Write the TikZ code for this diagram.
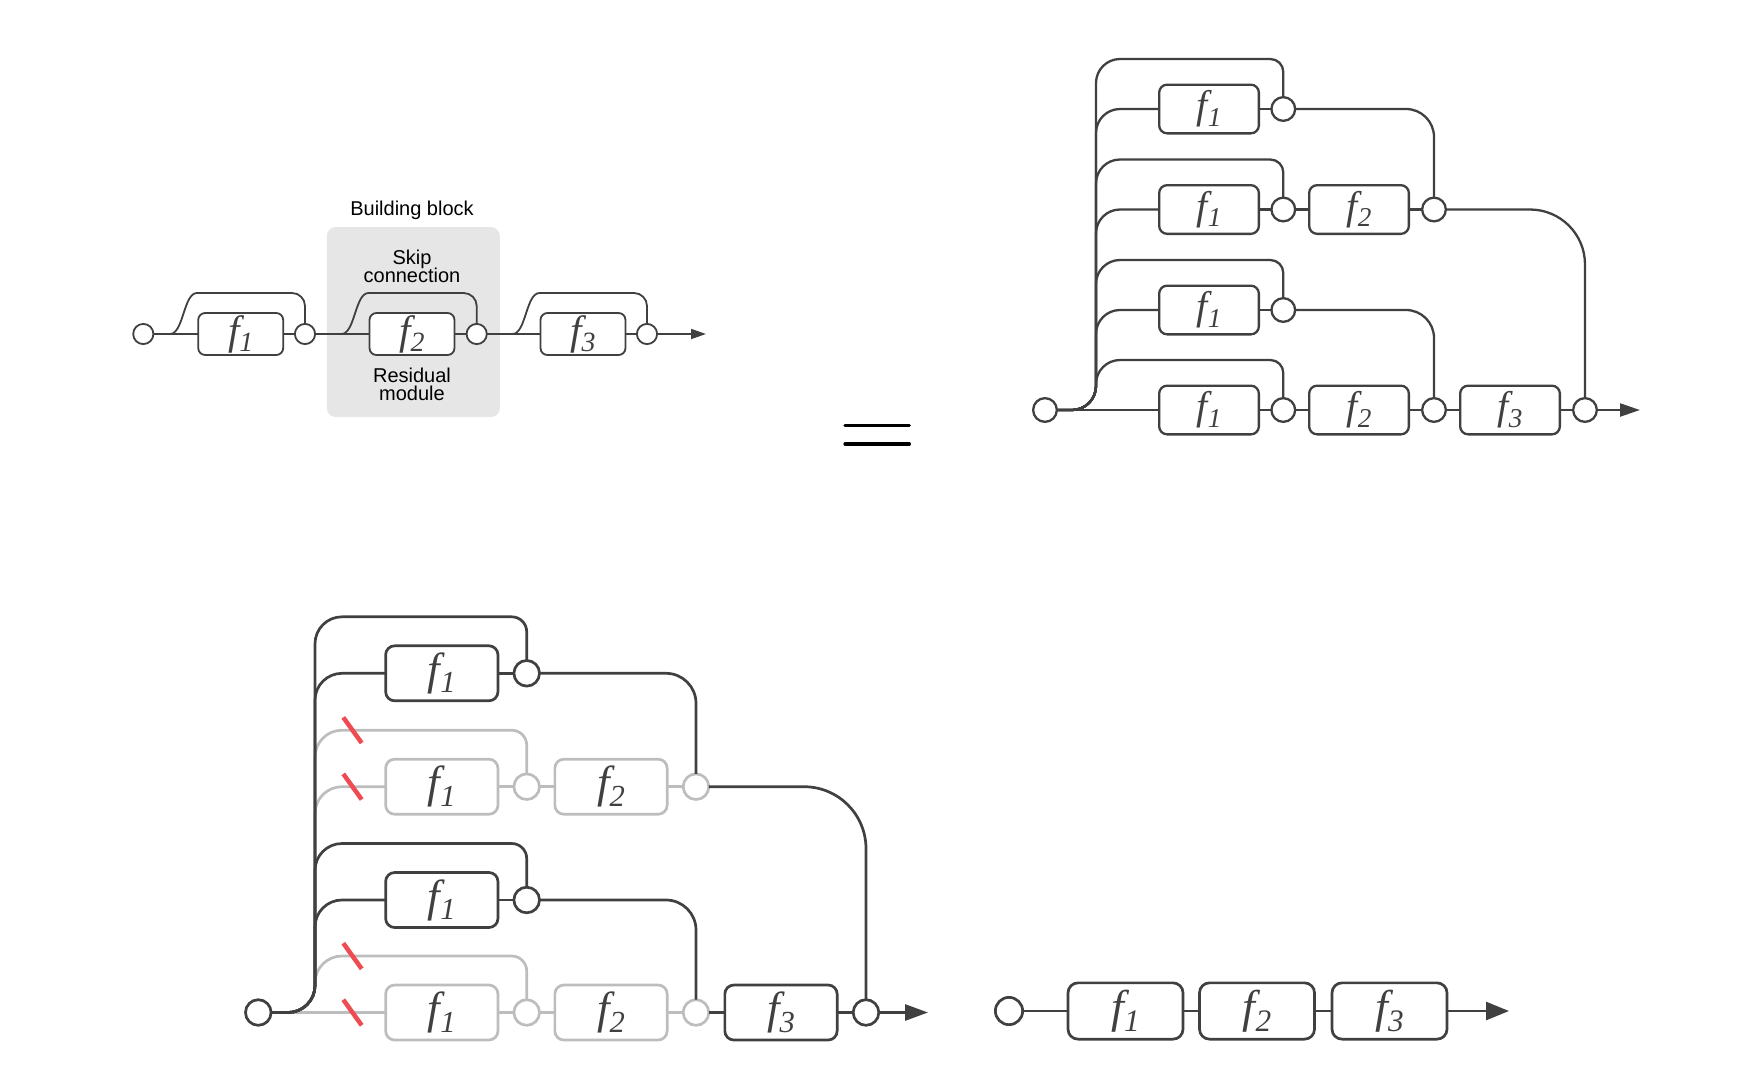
\documentclass[tikz,border=0pt]{standalone}
\usepackage{fontspec}
\setmainfont{Liberation Sans}
\newfontfamily\tnr{Liberation Serif}
\usepackage{graphicx}
\usetikzlibrary{arrows.meta}
\definecolor{dk}{HTML}{404040}
\definecolor{lg}{HTML}{BDBDBD}
\definecolor{rd}{HTML}{EE4B52}
\definecolor{bbg}{HTML}{E6E6E6}
\newcommand\fl[2]{{\fontsize{#1}{#1}\selectfont\tnr\itshape f\raisebox{-0.19em}{\scalebox{0.68}{#2}}}}
\begin{document}
\begin{tikzpicture}[x=1pt,y=-1pt,
  every node/.style={inner sep=0pt,outer sep=0pt},
  lbl/.style={font=\fontsize{20}{20}\selectfont, text=black, anchor=base},
  slash/.style={draw=rd, line width=4.5pt},
  eqline/.style={draw=black, line width=3.3pt, line cap=round}]
\useasboundingbox (0,0) rectangle (1756,1090);

% ================= top-left =================
\begin{scope}[ln/.style={draw=dk, line width=1.8pt},
  fb/.style={draw=dk, fill=white, rounded corners=7pt, minimum width=85pt, minimum height=42pt, line width=1.8pt, text=dk},
  cc/.style={circle, draw=dk, fill=white, minimum size=20.2pt, line width=1.8pt}]
\node[fill=bbg, rounded corners=9pt, minimum width=173pt, minimum height=190pt] (bb) at (413.3,322) {};
\node[lbl] (tbb) at (412,215) {Building block};
\node[lbl] (tskip) at (412,264) {Skip};
\node[lbl] (tconn) at (412,282) {connection};
\node[lbl] (tres) at (412,382) {Residual};
\node[lbl] (tmod) at (412,400) {module};
\node[cc] (tl0) at (143.3,334) {};
\node[fb] (tlf1) at (240.7,334) {\fl{41}{1}};
\node[cc] (tl1) at (305,334) {};
\node[fb] (tlf2) at (412,334) {\fl{41}{2}};
\node[cc] (tl2) at (476.7,334) {};
\node[fb] (tlf3) at (583,334) {\fl{41}{3}};
\node[cc] (tl3) at (647,334) {};
\coordinate (tlend) at (706,334);
\draw[ln] (tl0) -- (tlf1) -- (tl1) -- (tlf2) -- (tl2) -- (tlf3) -- (tl3);
\draw[ln,-{Triangle[length=15pt,width=10pt]}] (tl3) -- (tlend);
\draw[ln] (tl0.east) -- (170,334) .. controls (183.5,334) and (183.5,293) .. (197,293) [rounded corners=13pt] -- (tl1 |- 0,293) -- (tl1.north);
\draw[ln] (tl1.east) -- (341.5,334) .. controls (355,334) and (355,293) .. (368.5,293) [rounded corners=13pt] -- (tl2 |- 0,293) -- (tl2.north);
\draw[ln] (tl2.east) -- (512.5,334) .. controls (526,334) and (526,293) .. (539.5,293) [rounded corners=13pt] -- (tl3 |- 0,293) -- (tl3.north);
\end{scope}

% ================= equals =================
\draw[eqline] (845,425.7) -- (909.3,425.7);
\draw[eqline] (845,444) -- (909.3,444);

% ================= top-right =================
\begin{scope}[ln/.style={draw=dk, line width=2.3pt},
  fb/.style={draw=dk, fill=white, rounded corners=8pt, minimum width=99.7pt, minimum height=48.7pt, line width=2.3pt, text=dk},
  cc/.style={circle, draw=dk, fill=white, minimum size=23.7pt, line width=2.3pt}]
\node[cc] (tr0) at (1045,410) {};
\node[fb] (trf11) at (1209,109) {\fl{40}{1}};
\node[cc] (tr11) at (1283.3,109) {};
\node[fb] (trf12) at (1209,209.5) {\fl{40}{1}};
\node[cc] (tr12) at (1283.3,209.5) {};
\node[fb] (trf22) at (1359,209.5) {\fl{40}{2}};
\node[cc] (tr22) at (1434,209.5) {};
\node[fb] (trf13) at (1209,310) {\fl{40}{1}};
\node[cc] (tr13) at (1283.3,310) {};
\node[fb] (trf14) at (1209,410) {\fl{40}{1}};
\node[cc] (tr14) at (1283.3,410) {};
\node[fb] (trf24) at (1359,410) {\fl{40}{2}};
\node[cc] (tr24) at (1434,410) {};
\node[fb] (trf34) at (1510,410) {\fl{40}{3}};
\node[cc] (tr34) at (1585,410) {};
\coordinate (trend) at (1640,410);
% branches from the trunk
\draw[ln,rounded corners=24pt] (tr0.east) -| (1096,59) [rounded corners=13pt] -- (tr11 |- 0,59) -- (tr11.north);
\draw[ln,rounded corners=24pt] (tr0.east) -| (1096,109) -- (trf11.west);
\draw[ln,rounded corners=24pt] (tr0.east) -| (1096,159.5) [rounded corners=13pt] -- (tr12 |- 0,159.5) -- (tr12.north);
\draw[ln,rounded corners=24pt] (tr0.east) -| (1096,209.5) -- (trf12.west);
\draw[ln,rounded corners=24pt] (tr0.east) -| (1096,260) [rounded corners=13pt] -- (tr13 |- 0,260) -- (tr13.north);
\draw[ln,rounded corners=24pt] (tr0.east) -| (1096,310) -- (trf13.west);
\draw[ln,rounded corners=24pt] (tr0.east) -| (1096,360) [rounded corners=13pt] -- (tr14 |- 0,360) -- (tr14.north);
\draw[ln] (tr0) -- (trf14);
% rows
\draw[ln] (trf11) -- (tr11);
\draw[ln] (trf12) -- (tr12) -- (trf22) -- (tr22);
\draw[ln] (trf13) -- (tr13);
\draw[ln] (trf14) -- (tr14) -- (trf24) -- (tr24) -- (trf34) -- (tr34);
\draw[ln,-{Triangle[length=20pt,width=13pt]}] (tr34) -- (trend);
% outputs
\draw[ln,rounded corners=28pt] (tr11.east) -| (tr22.north);
\draw[ln,rounded corners=55pt] (tr22.east) -| (tr34.north);
\draw[ln,rounded corners=28pt] (tr13.east) -| (tr24.north);
\end{scope}

% ================= bottom-left =================
\begin{scope}[ln/.style={draw=dk, line width=2.7pt},
  gl/.style={draw=lg, line width=2.7pt},
  fb/.style={draw=dk, fill=white, rounded corners=9pt, minimum width=112.3pt, minimum height=55pt, line width=2.7pt, text=dk},
  gfb/.style={fb, draw=lg},
  cc/.style={circle, draw=dk, fill=white, minimum size=25.6pt, line width=2.7pt},
  gcc/.style={cc, draw=lg}]
\node[cc] (bl0) at (258.3,1012.5) {};
\node[fb] (blf11) at (441.8,673.3) {\fl{45}{1}};
\node[cc] (bl11) at (526.7,673.3) {};
\node[gfb] (blf12) at (441.8,786.7) {\fl{45}{1}};
\node[gcc] (bl12) at (526.7,786.7) {};
\node[gfb] (blf22) at (611,786.7) {\fl{45}{2}};
\node[gcc] (bl22) at (696,786.7) {};
\node[fb] (blf13) at (441.8,900) {\fl{45}{1}};
\node[cc] (bl13) at (526.7,900) {};
\node[gfb] (blf14) at (441.8,1012.5) {\fl{45}{1}};
\node[gcc] (bl14) at (526.7,1012.5) {};
\node[gfb] (blf24) at (611,1012.5) {\fl{45}{2}};
\node[gcc] (bl24) at (696,1012.5) {};
\node[fb] (blf34) at (781,1012.5) {\fl{45}{3}};
\node[cc] (bl34) at (866,1012.5) {};
\coordinate (blend) at (928,1012.5);
% gray (dropped) paths
\draw[gl,rounded corners=27pt] (bl0.east) -| (315,730.2) [rounded corners=15pt] -- (bl12 |- 0,730.2) -- (bl12.north);
\draw[gl,rounded corners=27pt] (bl0.east) -| (315,786.7) -- (blf12.west);
\draw[gl,rounded corners=27pt] (bl0.east) -| (315,956) [rounded corners=15pt] -- (bl14 |- 0,956) -- (bl14.north);
\draw[gl] (bl0) -- (blf14);
\draw[gl] (blf12) -- (bl12) -- (blf22) -- (bl22);
\draw[gl] (blf14) -- (bl14) -- (blf24) -- (bl24);
% dark paths
\draw[ln,rounded corners=27pt] (bl0.east) -| (315,616.8) [rounded corners=15pt] -- (bl11 |- 0,616.8) -- (bl11.north);
\draw[ln,rounded corners=27pt] (bl0.east) -| (315,673.3) -- (blf11.west);
\draw[ln,rounded corners=27pt] (bl0.east) -| (315,843.5) [rounded corners=15pt] -- (bl13 |- 0,843.5) -- (bl13.north);
\draw[ln,rounded corners=27pt] (bl0.east) -| (315,900) -- (blf13.west);
\draw[ln] (blf11) -- (bl11);
\draw[ln] (blf13) -- (bl13);
\draw[ln] (bl24) -- (blf34) -- (bl34);
\draw[ln,-{Triangle[length=23pt,width=16pt]}] (bl34) -- (blend);
\draw[ln,rounded corners=30pt] (bl11.east) -| (bl22.north);
\draw[ln,rounded corners=62pt] (bl22.east) -| (bl34.north);
\draw[ln,rounded corners=30pt] (bl13.east) -| (bl24.north);
% red cuts
\draw[slash] (343.3,717.4) -- (361.7,743);
\draw[slash] (343.3,773.9) -- (361.7,799.5);
\draw[slash] (343.3,943.2) -- (361.7,968.8);
\draw[slash] (343.3,999.7) -- (361.7,1025.3);
\end{scope}

% ================= bottom-right =================
\begin{scope}[ln/.style={draw=dk, line width=2.7pt},
  fb/.style={draw=dk, fill=white, rounded corners=10pt, minimum width=115pt, minimum height=56.3pt, line width=2.7pt, text=dk},
  cc/.style={circle, draw=dk, fill=white, minimum size=27.3pt, line width=2.7pt}]
\node[cc] (br0) at (1009,1011) {};
\node[fb] (brf1) at (1125.5,1011) {\fl{46}{1}};
\node[fb] (brf2) at (1257,1011) {\fl{46}{2}};
\node[fb] (brf3) at (1389.5,1011) {\fl{46}{3}};
\coordinate (brend) at (1509,1011);
\draw[ln] (br0) -- (brf1) -- (brf2) -- (brf3);
\draw[ln,-{Triangle[length=23pt,width=18pt]}] (brf3) -- (brend);
\end{scope}
\end{tikzpicture}
\end{document}
